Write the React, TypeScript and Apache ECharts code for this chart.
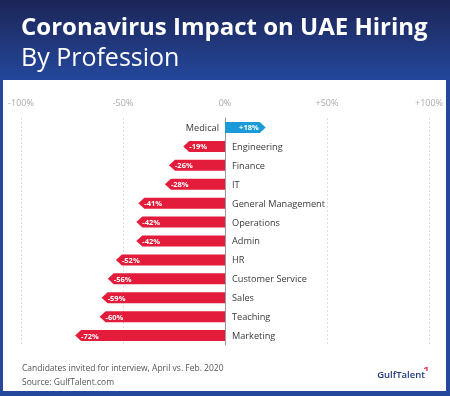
import React, { useEffect, useRef } from "react";
import * as echarts from "echarts";

const categories = [
  "Medical",
  "Engineering",
  "Finance",
  "IT",
  "General Management",
  "Operations",
  "Admin",
  "HR",
  "Customer Service",
  "Sales",
  "Teaching",
  "Marketing",
];
const values = [18, -19, -26, -28, -41, -42, -42, -52, -56, -59, -60, -72];
const tickValues = [-100, -50, 0, 50, 100];
const tickLabels = ["-100%", "-50%", "0%", "+50%", "+100%"];

const FONT = "'Open Sans', 'Noto Sans', sans-serif";
const RED = "#e21c3a";
const BLUE = "#1b9ad8";

export default function App() {
  const ref = useRef<HTMLDivElement>(null);
  useEffect(() => {
    if (!ref.current) return;
    const chart = echarts.init(ref.current, undefined, { renderer: "svg" });
    const data = values.map((v, i) => [v, i]);
    chart.setOption({
      animation: false,
      backgroundColor: "transparent",
      graphic: [
        {
          type: "rect",
          z: -10,
          shape: { x: 0, y: 0, width: 450, height: 396 },
          style: {
            fill: new echarts.graphic.LinearGradient(0, 0, 0, 1, [
              { offset: 0, color: "#1c2557" },
              { offset: 0.2, color: "#24479b" },
              { offset: 1, color: "#24489c" },
            ]),
          },
        },
        {
          type: "rect",
          z: -9,
          shape: { x: 3, y: 80, width: 443, height: 311 },
          style: { fill: "#ffffff" },
        },
        {
          type: "text",
          x: 21,
          y: 25,
          style: {
            text: "Coronavirus Impact on UAE Hiring",
            fill: "#ffffff",
            font: `bold 24px ${FONT}`,
            verticalAlign: "middle",
          },
        },
        {
          type: "text",
          x: 21,
          y: 56,
          style: {
            text: "By Profession",
            fill: "#ffffff",
            font: `400 25px ${FONT}`,
            verticalAlign: "middle",
          },
        },
        {
          type: "text",
          x: 22,
          y: 367,
          style: {
            text: "Candidates invited for interview, April vs. Feb. 2020",
            fill: "#555555",
            font: `8.5px ${FONT}`,
            verticalAlign: "middle",
          },
        },
        {
          type: "text",
          x: 22,
          y: 381,
          style: {
            text: "Source: GulfTalent.com",
            fill: "#555555",
            font: `8.5px ${FONT}`,
            verticalAlign: "middle",
          },
        },
        {
          type: "text",
          x: 425,
          y: 374,
          style: {
            text: "GulfTalent",
            fill: "#1f3a80",
            font: `600 9.5px ${FONT}`,
            align: "right",
            verticalAlign: "middle",
          },
        },
        {
          type: "polyline",
          shape: { points: [[424, 368.5], [427, 367.5], [427, 371]] },
          style: { stroke: "#e21c3a", lineWidth: 1.2, fill: "none" },
        },
      ],
      grid: { left: 21, right: 21, top: 118, bottom: 51 },
      xAxis: {
        type: "value",
        position: "top",
        min: -100,
        max: 100,
        interval: 50,
        axisLine: { show: false },
        axisTick: { show: false },
        axisLabel: {
          margin: 11,
          color: "#aaaaaa",
          fontSize: 9,
          fontFamily: FONT,
          formatter: (v: number) => tickLabels[tickValues.indexOf(v)] ?? "",
        },
        splitLine: {
          show: true,
          lineStyle: { color: "#dddddd", type: [2, 2], width: 1 },
        },
      },
      yAxis: {
        type: "category",
        data: categories,
        inverse: true,
        axisLine: { show: true, onZero: true, lineStyle: { color: "#999999", width: 1 } },
        axisTick: { show: false },
        axisLabel: { show: false },
        splitLine: { show: false },
      },
      series: [
        {
          type: "custom",
          data,
          encode: { x: 0, y: 1 },
          renderItem: (params: any, api: any) => {
            const v = api.value(0);
            const idx = api.value(1);
            const p0 = api.coord([0, idx]);
            const p1 = api.coord([v, idx]);
            const h = 11;
            const yc = p0[1];
            const top = yc - h / 2;
            const bot = yc + h / 2;
            const neg = v < 0;
            const tipX = neg ? p1[0] - 3 : p1[0] + 4;
            const shX = neg ? tipX + 6 : tipX - 6;
            const color = neg ? RED : BLUE;
            const label = (v > 0 ? "+" : "") + v + "%";
            const cat = categories[idx];
            return {
              type: "group",
              children: [
                {
                  type: "polygon",
                  shape: {
                    points: [
                      [p0[0], top],
                      [shX, top],
                      [tipX, yc],
                      [shX, bot],
                      [p0[0], bot],
                    ],
                  },
                  style: { fill: color },
                },
                {
                  type: "text",
                  x: neg ? tipX + 6 : tipX - 7,
                  y: yc,
                  style: {
                    text: label,
                    fill: "#ffffff",
                    font: `bold 7.5px ${FONT}`,
                    align: neg ? "left" : "right",
                    verticalAlign: "middle",
                  },
                },
                {
                  type: "text",
                  x: neg ? p0[0] + 7 : p0[0] - 6,
                  y: yc,
                  style: {
                    text: cat,
                    fill: "#3a3a3a",
                    font: `9.2px ${FONT}`,
                    align: neg ? "left" : "right",
                    verticalAlign: "middle",
                  },
                },
              ],
            };
          },
        },
      ],
    });
    return () => chart.dispose();
  }, []);
  return (
    <div
      ref={ref}
      style={{ position: "fixed", left: 0, top: 0, width: 450, height: 396 }}
    />
  );
}
